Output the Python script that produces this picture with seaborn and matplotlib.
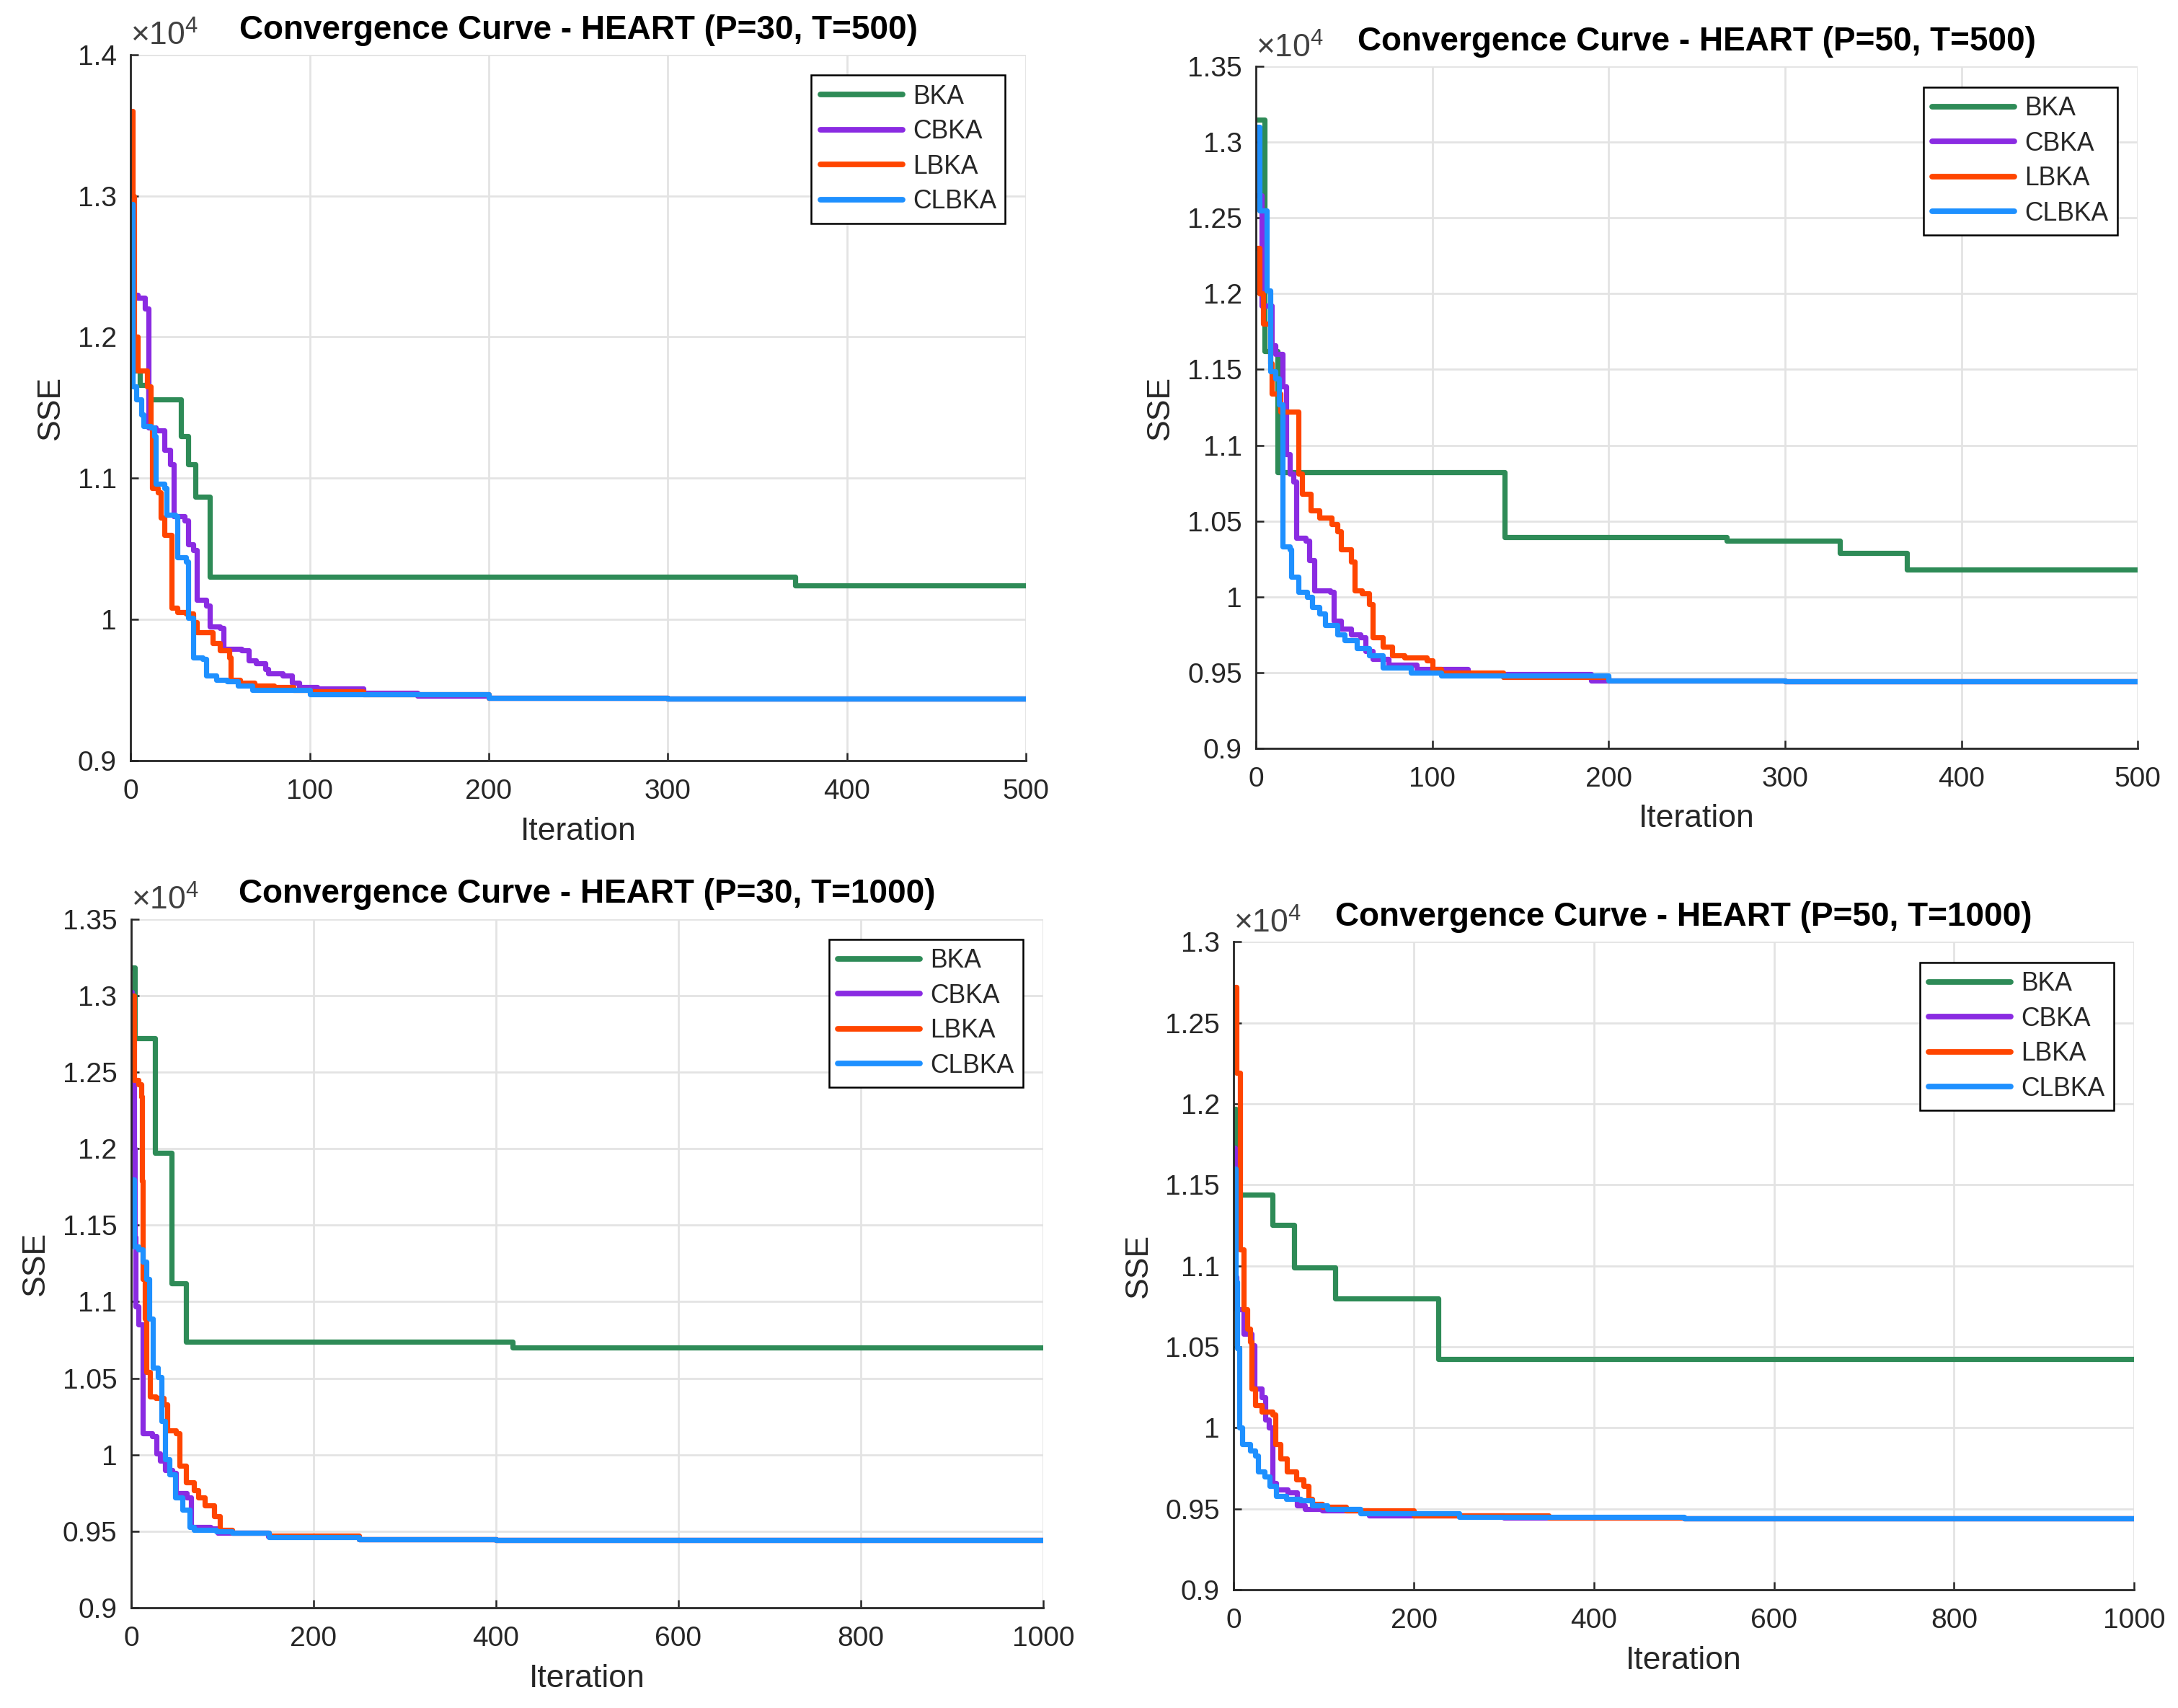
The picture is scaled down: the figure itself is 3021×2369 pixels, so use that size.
import numpy as np
import pandas as pd
import seaborn as sns
import matplotlib
matplotlib.use("Agg")
import matplotlib.pyplot as plt
from matplotlib.ticker import FuncFormatter

algorithms = ["BKA", "CBKA", "LBKA", "CLBKA"]
colors = ["#2E8B57", "#8A2BE2", "#FF4500", "#1E90FF"]

# ---- P=30, T=500 ----
bka_30_500_it = [0, 2, 5, 10, 28, 32, 36, 44, 371, 500]
bka_30_500_sse = [11850, 11760, 11660, 11560, 11300, 11100, 10870, 10300, 10243, 10243]
cbka_30_500_it = [0, 4, 8, 10, 14, 19, 22, 24, 30, 32, 35, 37, 42, 44, 50, 52, 62, 66, 70, 75, 77, 85, 90, 94, 104, 130, 160,
                  200, 300, 500]
cbka_30_500_sse = [12300, 12280, 12200, 11360, 11340, 11200, 11100, 10730, 10700, 10530, 10490, 10140, 10100, 9950, 9940, 9790,
                   9780, 9710, 9690, 9650, 9620, 9600, 9550, 9520, 9510, 9480, 9460, 9442, 9437, 9437]
lbka_30_500_it = [0, 1, 2, 4, 9, 11, 12, 15, 17, 19, 23, 26, 31, 35, 37, 46, 50, 55, 56, 61, 69, 80, 91, 100, 130, 200, 300, 500]
lbka_30_500_sse = [13600, 13000, 12000, 11760, 11650, 11360, 10930, 10900, 10720, 10600, 10080, 10050, 10040, 9980, 9910, 9830,
                   9780, 9730, 9570, 9550, 9530, 9520, 9500, 9490, 9470, 9442, 9437, 9437]
clbka_30_500_it = [0, 1, 3, 6, 7, 11, 13, 14, 19, 20, 25, 26, 31, 32, 35, 40, 42, 48, 54, 60, 68, 100, 200, 300, 500]
clbka_30_500_sse = [12940, 11650, 11560, 11450, 11370, 11360, 11300, 10960, 10930, 10740, 10730, 10440, 10410, 10010, 9730, 9720,
                    9600, 9570, 9560, 9530, 9500, 9470, 9442, 9437, 9437]

# ---- P=50, T=500 ----
bka_50_500_it = [0, 5, 12, 141, 267, 331, 369, 500]
bka_50_500_sse = [13150, 11620, 10820, 10394, 10370, 10290, 10180, 10180]
cbka_50_500_it = [0, 3, 9, 11, 15, 17, 19, 21, 23, 28, 30, 33, 42, 44, 48, 54, 59, 62, 66, 75, 91, 120, 190, 300, 500]
cbka_50_500_sse = [12650, 11920, 11660, 11600, 11390, 10940, 10810, 10760, 10390, 10370, 10240, 10040, 10030, 9840, 9790, 9750,
                   9730, 9640, 9590, 9550, 9520, 9490, 9445, 9440, 9440]
lbka_50_500_it = [0, 2, 4, 8, 9, 14, 24, 26, 31, 36, 43, 46, 48, 54, 56, 60, 64, 66, 72, 77, 84, 97, 100, 105, 140, 200, 300, 500]
lbka_50_500_sse = [12300, 12000, 11800, 11540, 11340, 11220, 10810, 10680, 10570, 10520, 10480, 10430, 10310, 10230, 10040, 10020,
                   9950, 9730, 9670, 9610, 9600, 9580, 9520, 9500, 9470, 9445, 9440, 9440]
clbka_50_500_it = [0, 2, 6, 8, 11, 13, 15, 19, 20, 24, 29, 32, 36, 39, 46, 50, 57, 64, 72, 88, 105, 200, 300, 500]
clbka_50_500_sse = [13100, 12550, 12020, 11490, 11440, 11270, 10330, 10310, 10130, 10030, 10000, 9930, 9890, 9810, 9750, 9710,
                    9660, 9610, 9530, 9500, 9480, 9445, 9440, 9440]

# ---- P=30, T=1000 ----
bka_30_1000_it = [0, 4, 26, 44, 60, 418, 1000]
bka_30_1000_sse = [13180, 12720, 11970, 11120, 10740, 10700, 10700]
cbka_30_1000_it = [0, 1, 3, 4, 5, 8, 13, 23, 28, 32, 37, 45, 49, 61, 66, 87, 95, 150, 250, 400, 1000]
cbka_30_1000_sse = [13020, 12420, 12000, 11420, 10970, 10850, 10140, 10120, 10010, 9960, 9900, 9880, 9750, 9720, 9530, 9520,
                    9490, 9465, 9450, 9445, 9445]
lbka_30_1000_it = [0, 3, 8, 11, 12, 13, 15, 17, 21, 27, 36, 40, 49, 53, 60, 69, 74, 81, 91, 97, 111, 151, 250, 400, 1000]
lbka_30_1000_sse = [13000, 12450, 12420, 12340, 11790, 11150, 10890, 10540, 10380, 10370, 10330, 10160, 10140, 9930, 9820, 9770,
                    9720, 9670, 9600, 9510, 9490, 9470, 9450, 9445, 9445]
clbka_30_1000_it = [0, 3, 8, 13, 17, 20, 24, 29, 33, 37, 42, 48, 56, 64, 69, 93, 111, 151, 250, 400, 1000]
clbka_30_1000_sse = [11800, 11360, 11340, 11260, 11150, 10890, 10570, 10510, 10220, 9970, 9870, 9720, 9640, 9530, 9510, 9500,
                     9490, 9460, 9450, 9445, 9445]

# ---- P=50, T=1000 ----
bka_50_1000_it = [0, 2, 43, 67, 113, 227, 1000]
bka_50_1000_sse = [11970, 11440, 11250, 10990, 10800, 10425, 10425]
cbka_50_1000_it = [0, 1, 3, 11, 20, 23, 31, 35, 39, 43, 47, 60, 70, 79, 98, 150, 300, 500, 1000]
cbka_50_1000_sse = [11730, 10930, 10730, 10580, 10510, 10240, 10190, 10050, 10000, 9660, 9620, 9600, 9520, 9500, 9490, 9460,
                    9446, 9442, 9442]
lbka_50_1000_it = [0, 3, 7, 11, 15, 18, 20, 24, 31, 43, 46, 52, 59, 69, 77, 83, 87, 98, 125, 200, 350, 500, 1000]
lbka_50_1000_sse = [12720, 12190, 11100, 10730, 10610, 10530, 10240, 10140, 10100, 10080, 9900, 9810, 9730, 9680, 9640, 9560,
                    9530, 9510, 9490, 9460, 9446, 9442, 9442]
clbka_50_1000_it = [0, 2, 4, 6, 9, 18, 24, 27, 34, 40, 47, 58, 74, 87, 104, 141, 250, 500, 1000]
clbka_50_1000_sse = [11600, 10900, 10490, 10000, 9900, 9860, 9830, 9730, 9700, 9640, 9580, 9560, 9550, 9520, 9500, 9470, 9448,
                     9442, 9442]


def to_frame(curves):
    parts = []
    for name, (it, sse) in zip(algorithms, curves):
        parts.append(pd.DataFrame({"Iteration": it, "SSE": sse, "Algorithm": name}))
    return pd.concat(parts, ignore_index=True)


sns.set_theme(style="whitegrid")
plt.rcParams["font.family"] = ["Liberation Sans", "DejaVu Sans"]
plt.rcParams["mathtext.fontset"] = "custom"
plt.rcParams["mathtext.rm"] = "Liberation Sans"
plt.rcParams["mathtext.it"] = "Liberation Sans:italic"

fig = plt.figure(figsize=(15.105, 11.845), dpi=200)
fig.patch.set_facecolor("white")

panels = [
    # (axes rect, curves, title, t_max, x_step, y_max, y_step)
    ([0.0600, 0.5547, 0.4110, 0.4133],
     [(bka_30_500_it, bka_30_500_sse), (cbka_30_500_it, cbka_30_500_sse),
      (lbka_30_500_it, lbka_30_500_sse), (clbka_30_500_it, clbka_30_500_sse)],
     "Convergence Curve - HEART (P=30, T=500)", 500, 100, 14000, 1000),
    ([0.5767, 0.5620, 0.4048, 0.3990],
     [(bka_50_500_it, bka_50_500_sse), (cbka_50_500_it, cbka_50_500_sse),
      (lbka_50_500_it, lbka_50_500_sse), (clbka_50_500_it, clbka_50_500_sse)],
     "Convergence Curve - HEART (P=50, T=500)", 500, 100, 13500, 500),
    ([0.0602, 0.0586, 0.4188, 0.4034],
     [(bka_30_1000_it, bka_30_1000_sse), (cbka_30_1000_it, cbka_30_1000_sse),
      (lbka_30_1000_it, lbka_30_1000_sse), (clbka_30_1000_it, clbka_30_1000_sse)],
     "Convergence Curve - HEART (P=30, T=1000)", 1000, 200, 13500, 500),
    ([0.5665, 0.0692, 0.4133, 0.3794],
     [(bka_50_1000_it, bka_50_1000_sse), (cbka_50_1000_it, cbka_50_1000_sse),
      (lbka_50_1000_it, lbka_50_1000_sse), (clbka_50_1000_it, clbka_50_1000_sse)],
     "Convergence Curve - HEART (P=50, T=1000)", 1000, 200, 13000, 500),
]

axis_color = "#262626"

for rect, curves, title, t_max, x_step, y_max, y_step in panels:
    ax = fig.add_axes(rect)
    ax.set_facecolor("white")
    df = to_frame(curves)
    sns.lineplot(data=df, x="Iteration", y="SSE", hue="Algorithm", hue_order=algorithms,
                 palette=colors, estimator=None, sort=False, drawstyle="steps-post",
                 linewidth=2.6, ax=ax)

    ax.set_xlim(0, t_max)
    ax.set_ylim(9000, y_max)
    ax.set_xticks(np.arange(0, t_max + 1, x_step))
    ax.set_yticks(np.arange(9000, y_max + 1, y_step))
    ax.yaxis.set_major_formatter(FuncFormatter(lambda v, _: f"{v / 1e4:g}"))

    ax.grid(True, color="#e3e3e3", linewidth=1.0)
    ax.set_axisbelow(True)
    for side in ["top", "right"]:
        ax.spines[side].set_visible(False)
    for side in ["left", "bottom"]:
        ax.spines[side].set_color(axis_color)
        ax.spines[side].set_linewidth(1.0)
    ax.tick_params(direction="in", length=4, width=0.9, colors=axis_color,
                   labelsize=14, bottom=True, left=True, pad=7)
    ax.tick_params(axis="x", pad=9)

    ax.set_xlabel("Iteration", fontsize=16, color=axis_color, labelpad=6)
    ax.set_ylabel("SSE", fontsize=16, color=axis_color, labelpad=6)
    ax.set_title(title, fontsize=16.5, fontweight="bold", color="black", pad=8)
    ax.text(0.0, 1.004, r"$\times\mathregular{10^{4}}$", transform=ax.transAxes,
            ha="left", va="bottom", fontsize=16, color="#404040")

    sns.move_legend(ax, "upper right", title=None, frameon=True, fancybox=False,
                    edgecolor="black", framealpha=1, fontsize=12.8, handlelength=3.2,
                    borderaxespad=0.8, borderpad=0.35, labelspacing=0.38, handletextpad=0.4)
    leg = ax.get_legend()
    leg.get_frame().set_linewidth(0.9)
    for h in leg.legend_handles:
        h.set_linewidth(2.8)

fig.savefig("out.png", dpi=200, facecolor="white")
